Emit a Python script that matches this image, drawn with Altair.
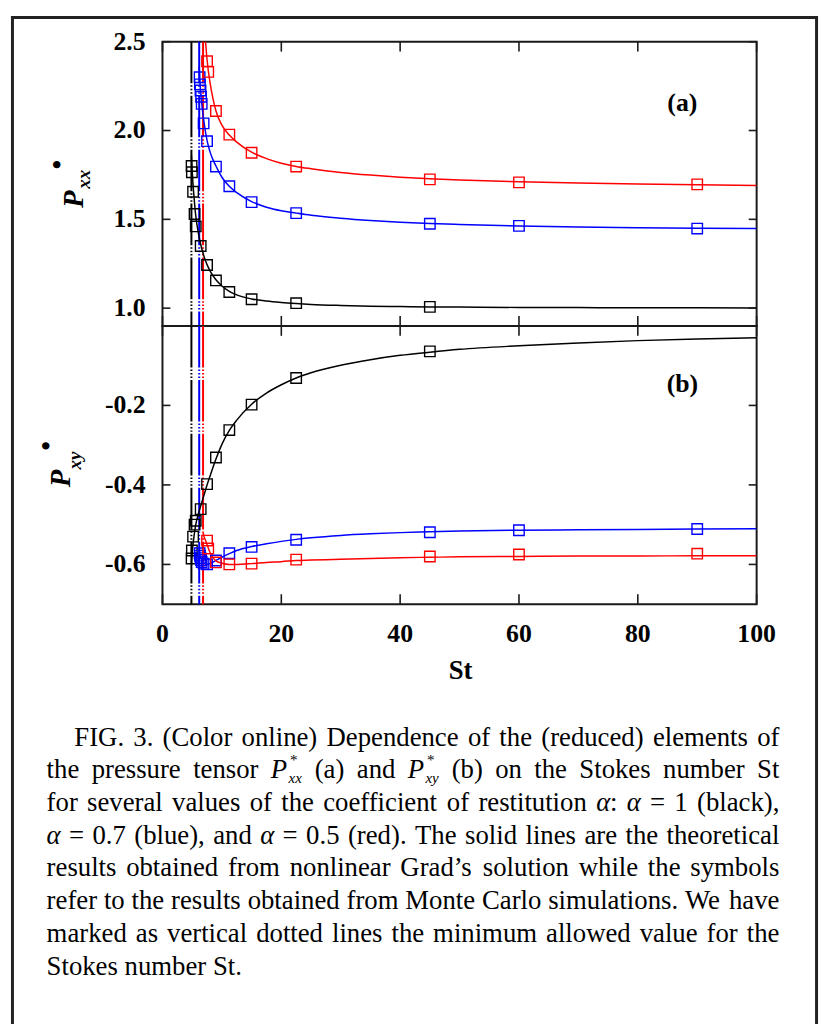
import altair as alt
import pandas as pd

# ------------------------------------------------------------------ data
alphas = ["1", "0.7", "0.5"]
line_colors = ["#000000", "#0000ff", "#ff0000"]
st_min = [4.87, 6.18, 6.83]

# theoretical curves
th_st_a1 = [4.87, 5.0, 5.3, 5.6, 6.0, 6.5, 7.0, 7.5, 8.0, 9.0, 10.0, 11.25, 12.5, 15.0,
            17.5, 20.0, 22.5, 25.0, 30.0, 35.0, 40.0, 45.0, 50.0, 60.0, 70.0, 80.0, 90.0, 100.0]
th_pxx_a1 = [1.86, 1.77, 1.63, 1.52, 1.43, 1.35, 1.29, 1.245, 1.21, 1.16, 1.125, 1.095, 1.075, 1.052,
             1.040, 1.032, 1.026, 1.021, 1.015, 1.011, 1.009, 1.007, 1.006, 1.004, 1.003, 1.002, 1.002, 1.001]
th_pxy_a1 = [-0.60, -0.57, -0.53, -0.50, -0.475, -0.45, -0.425, -0.40, -0.378, -0.335, -0.298, -0.263, -0.237, -0.197,
             -0.169, -0.148, -0.131, -0.118, -0.099, -0.085, -0.074, -0.066, -0.059, -0.050, -0.043, -0.037, -0.033, -0.030]

th_st_a07 = [6.18, 6.3, 6.5, 6.75, 7.0, 7.5, 8.0, 9.0, 10.0, 11.25, 12.5, 15.0, 17.5, 20.0, 22.5,
             25.0, 30.0, 35.0, 40.0, 45.0, 50.0, 60.0, 70.0, 80.0, 90.0, 100.0]
th_pxx_a07 = [2.36, 2.28, 2.19, 2.11, 2.045, 1.945, 1.88, 1.80, 1.737, 1.686, 1.650, 1.600, 1.568, 1.548, 1.535,
              1.523, 1.506, 1.493, 1.483, 1.476, 1.471, 1.463, 1.457, 1.453, 1.450, 1.448]
th_pxy_a07 = [-0.56, -0.575, -0.585, -0.593, -0.597, -0.600, -0.598, -0.590, -0.582, -0.573, -0.565, -0.555, -0.548,
              -0.542, -0.537, -0.533, -0.527, -0.523, -0.520, -0.518, -0.516, -0.514, -0.513, -0.512, -0.511, -0.510]

th_st_a05 = [6.83, 7.0, 7.25, 7.5, 8.0, 8.5, 9.0, 10.0, 11.25, 12.5, 15.0, 17.5, 20.0, 22.5, 25.0,
             30.0, 35.0, 40.0, 45.0, 50.0, 60.0, 70.0, 80.0, 90.0, 100.0]
th_pxx_a05 = [2.75, 2.62, 2.50, 2.40, 2.27, 2.18, 2.11, 2.03, 1.975, 1.935, 1.878, 1.842, 1.816, 1.798, 1.785,
              1.764, 1.749, 1.737, 1.728, 1.721, 1.711, 1.704, 1.699, 1.695, 1.691]
th_pxy_a05 = [-0.52, -0.53, -0.54, -0.55, -0.57, -0.583, -0.591, -0.597, -0.600, -0.600, -0.598, -0.595, -0.593,
              -0.590, -0.589, -0.587, -0.585, -0.583, -0.582, -0.581, -0.580, -0.579, -0.579, -0.578, -0.578]

# Monte Carlo symbols
mc_st_a1 = [4.9, 4.95, 5.15, 5.4, 5.6, 6.43, 7.5, 9.0, 11.25, 15.0, 22.5, 45.0]
mc_pxx_a1 = [1.80, 1.765, 1.655, 1.53, 1.46, 1.35, 1.243, 1.156, 1.091, 1.05, 1.028, 1.007]
mc_pxy_a1 = [-0.585, -0.565, -0.53, -0.50, -0.49, -0.461, -0.398, -0.331, -0.262, -0.198, -0.131, -0.064]

mc_st_a07 = [6.25, 6.3, 6.4, 6.5, 6.6, 6.92, 7.5, 9.0, 11.25, 15.0, 22.5, 45.0, 60.0, 90.0]
mc_pxx_a07 = [2.30, 2.26, 2.225, 2.19, 2.15, 2.04, 1.94, 1.797, 1.686, 1.597, 1.535, 1.475, 1.463, 1.448]
mc_pxy_a07 = [-0.572, -0.578, -0.584, -0.589, -0.594, -0.598, -0.600, -0.590, -0.572, -0.556, -0.538, -0.519,
              -0.514, -0.511]

mc_st_a05 = [7.5, 7.7, 9.0, 11.25, 15.0, 22.5, 45.0, 60.0, 90.0]
mc_pxx_a05 = [2.39, 2.33, 2.11, 1.977, 1.875, 1.797, 1.725, 1.708, 1.697]
mc_pxy_a05 = [-0.540, -0.560, -0.595, -0.600, -0.598, -0.588, -0.580, -0.575, -0.573]

x_ticks = [0, 20, 40, 60, 80, 100]
x_tick_labels = ["0", "20", "40", "60", "80", "100"]
pxx_ticks = [1.0, 1.5, 2.0, 2.5]
pxx_tick_labels = ["1.0", "1.5", "2.0", "2.5"]
pxy_ticks = [-0.6, -0.4, -0.2, 0.0]
pxy_label_vals = [-0.6, -0.4, -0.2]
pxy_tick_labels = ["-0.6", "-0.4", "-0.2"]

caption_lines = [
    "FIG. 3. (Color online) Dependence of the (reduced) elements of",
    "the pressure tensor $Pxx (a) and $Pxy (b) on the Stokes number St",
    "for several values of the coefficient of restitution α: α = 1 (black),",
    "α = 0.7 (blue), and α = 0.5 (red). The solid lines are the theoretical",
    "results obtained from nonlinear Grad’s solution while the symbols",
    "refer to the results obtained from Monte Carlo simulations. We have",
    "marked as vertical dotted lines the minimum allowed value for the",
    "Stokes number St.",
]

# ------------------------------------------------------------------ tables
def frame(st, pxx, pxy, a):
    return pd.DataFrame({"St": st, "Pxx": pxx, "Pxy": pxy, "alpha": a})

theory = pd.concat([frame(th_st_a1, th_pxx_a1, th_pxy_a1, alphas[0]),
                    frame(th_st_a07, th_pxx_a07, th_pxy_a07, alphas[1]),
                    frame(th_st_a05, th_pxx_a05, th_pxy_a05, alphas[2])], ignore_index=True)
mc = pd.concat([frame(mc_st_a1, mc_pxx_a1, mc_pxy_a1, alphas[0]),
                frame(mc_st_a07, mc_pxx_a07, mc_pxy_a07, alphas[1]),
                frame(mc_st_a05, mc_pxx_a05, mc_pxy_a05, alphas[2])], ignore_index=True)
vlines = pd.DataFrame({"St": st_min, "alpha": alphas})
one = pd.DataFrame({"k": [0]})

# ------------------------------------------------------------------ layout
W, H1, H2 = 600, 287, 281
X0, Y0, YB = 161, 34, 321          # page position of the plot frames
SERIF = "Liberation Serif"
INK = "#1a1a1a"

xs = alt.Scale(domain=[0, 100], nice=False, zero=False)
ys1 = alt.Scale(domain=[0.9, 2.5], nice=False, zero=False)
ys2 = alt.Scale(domain=[-0.7, 0.0], nice=False, zero=False)
color = alt.Color("alpha:N", scale=alt.Scale(domain=alphas, range=line_colors), legend=None)
dash = [42, 2, 1.5, 2, 1.5, 2, 1.5, 2]
LBL = dict(font=SERIF, fontWeight="bold", fontSize=26, color="black")


def ticks(ys, H, yvals):
    xt = pd.DataFrame({"v": x_ticks})
    yt = pd.DataFrame({"v": yvals})
    tk = dict(color=INK, strokeWidth=1.6)
    xv = alt.X("v:Q", scale=xs, axis=None)
    yv = alt.Y("v:Q", scale=ys, axis=None)
    return [
        alt.Chart(xt).mark_rule(**tk).encode(x=xv, y=alt.value(0), y2=alt.value(10)),
        alt.Chart(xt).mark_rule(**tk).encode(x=xv, y=alt.value(H - 10), y2=alt.value(H)),
        alt.Chart(yt).mark_rule(**tk).encode(y=yv, x=alt.value(0), x2=alt.value(8)),
        alt.Chart(yt).mark_rule(**tk).encode(y=yv, x=alt.value(W - 8), x2=alt.value(W)),
    ]


def ylabels(ys, vals, texts):
    d = pd.DataFrame({"v": vals, "t": texts})
    return alt.Chart(d).mark_text(align="right", baseline="middle", **LBL).encode(
        y=alt.Y("v:Q", scale=ys, axis=None), x=alt.value(-17), text="t:N")


def panel(field, ys, H, ytick_vals):
    vl = alt.Chart(vlines).mark_rule(strokeWidth=2, strokeDash=dash).encode(
        x=alt.X("St:Q", scale=xs, axis=None), color=color)
    cv = alt.Chart(theory).mark_line(strokeWidth=1.5, interpolate="monotone", clip=True).encode(
        x=alt.X("St:Q", scale=xs, axis=None),
        y=alt.Y(f"{field}:Q", scale=ys, axis=None), color=color, detail="alpha:N")
    pt = alt.Chart(mc).mark_point(shape="square", filled=False, size=112, strokeWidth=1.4,
                                  opacity=1, clip=True).encode(
        x=alt.X("St:Q", scale=xs, axis=None),
        y=alt.Y(f"{field}:Q", scale=ys, axis=None), color=color)
    return [vl, cv, pt] + ticks(ys, H, ytick_vals)


def txt(s, x, y, size, italic=False, bold=True, angle=None):
    kw = dict(text=s, font=SERIF, fontSize=size, color="black", align="center", baseline="middle",
              fontWeight="bold" if bold else "normal")
    if italic:
        kw["fontStyle"] = "italic"
    if angle is not None:
        kw["angle"] = angle
    return alt.Chart(one).mark_text(**kw).encode(x=alt.value(x), y=alt.value(y))


# ---------------------------------------------------- caption (justified)
TR = {' ': 250, '(': 333, ')': 333, '*': 500, ',': 250, '.': 250, ':': 278, '=': 564, '’': 333,
      '0': 500, '1': 500, '2': 500, '3': 500, '4': 500, '5': 500, '6': 500, '7': 500, '8': 500, '9': 500,
      'A': 722, 'B': 667, 'C': 667, 'D': 722, 'E': 611, 'F': 556, 'G': 722, 'H': 722, 'I': 333, 'J': 389,
      'K': 722, 'L': 611, 'M': 889, 'N': 722, 'O': 722, 'P': 556, 'Q': 722, 'R': 667, 'S': 556, 'T': 611,
      'U': 722, 'V': 722, 'W': 944, 'X': 722, 'Y': 722, 'Z': 611,
      'a': 444, 'b': 500, 'c': 444, 'd': 500, 'e': 444, 'f': 333, 'g': 500, 'h': 500, 'i': 278, 'j': 278,
      'k': 500, 'l': 278, 'm': 778, 'n': 500, 'o': 500, 'p': 500, 'q': 500, 'r': 333, 's': 389, 't': 278,
      'u': 500, 'v': 500, 'w': 722, 'x': 500, 'y': 500, 'z': 444}
TI = {'P': 611, 'x': 444, 'y': 444, 'α': 520}


def wid(s, italic):
    return sum((TI.get(c) if italic and c in TI else TR.get(c, 500)) for c in s) / 1000.0


def token(word):
    if word.startswith("$P"):
        sub = word[2:]
        runs = [("P", True, 1.0, 0.0, 0.0),
                ("*", False, 0.56, 0.72, -0.50),
                (sub, True, 0.56, 0.66, 0.17)]
        return runs, 0.66 + max(0.56 * 0.5, 0.56 * wid(sub, True)) + 0.02
    runs, x, buf = [], 0.0, ""
    for c in word:
        if c == "α":
            if buf:
                runs.append((buf, False, 1.0, x, 0.0)); x += wid(buf, False); buf = ""
            runs.append(("α", True, 1.0, x, 0.0)); x += wid("α", True)
        else:
            buf += c
    if buf:
        runs.append((buf, False, 1.0, x, 0.0)); x += wid(buf, False)
    return runs, x


CAP_FS = 27
CAP_LEFT, CAP_RIGHT, CAP_INDENT = 44, 784, 72
cap_base = [745, 778, 811, 844, 877, 910, 943, 976]
rows = []
for i, line in enumerate(caption_lines):
    toks = [token(w) for w in line.split(" ")]
    left = CAP_INDENT if i == 0 else CAP_LEFT
    tot = sum(w for _, w in toks) * CAP_FS
    if i < len(caption_lines) - 1:
        gap = (CAP_RIGHT - left - tot) / (len(toks) - 1)
    else:
        gap = 0.25 * CAP_FS
    x = left
    for runs, w in toks:
        for (s, it, sm, dx, dy) in runs:
            rows.append({"cx": x + dx * CAP_FS - X0, "cy": cap_base[i] + dy * CAP_FS - YB,
                         "t": s, "fs": sm * CAP_FS, "it": it})
        x += w * CAP_FS + gap
cap = pd.DataFrame(rows)


def caption_layer(italic):
    kw = dict(align="left", baseline="alphabetic", font=SERIF, color="black")
    if italic:
        kw["fontStyle"] = "italic"
    return alt.Chart(cap[cap["it"] == italic]).mark_text(**kw).encode(
        x=alt.X("cx:Q", scale=None, axis=None),
        y=alt.Y("cy:Q", scale=None, axis=None),
        text="t:N",
        size=alt.Size("fs:Q", scale=None, legend=None))


# ------------------------------------------------------------------ panels
frame_kw = dict(color="#222222", strokeWidth=3)
frame_layers = [
    alt.Chart(one).mark_rule(**frame_kw).encode(x=alt.value(8 + 1.5 - X0), y=alt.value(8 - Y0),
                                                y2=alt.value(1026 - Y0)),
    alt.Chart(one).mark_rule(**frame_kw).encode(y=alt.value(8 + 1.5 - Y0), x=alt.value(8 - X0),
                                                x2=alt.value(823 - X0)),
    alt.Chart(one).mark_rule(**frame_kw).encode(x=alt.value(821.5 - X0), y=alt.value(8 - Y0),
                                                y2=alt.value(1026 - Y0)),
]

xlab = pd.DataFrame({"v": x_ticks, "t": x_tick_labels})

top = alt.layer(
    *panel("Pxx", ys1, H1, pxx_ticks),
    ylabels(ys1, pxx_ticks, pxx_tick_labels),
    txt("(a)", 686 - X0, 96 - Y0, 26),
    txt("P", 72 - X0, 193 - Y0, 29, italic=True, angle=270),
    txt("xx", 82 - X0, 173 - Y0, 19, italic=True, angle=270),
    txt("•", 56 - X0, 158 - Y0, 27, angle=270),
    *frame_layers,
).properties(width=W, height=H1)

bottom = alt.layer(
    *panel("Pxy", ys2, H2, pxy_ticks),
    ylabels(ys2, pxy_label_vals, pxy_tick_labels),
    alt.Chart(xlab).mark_text(align="center", baseline="middle", **LBL).encode(
        x=alt.X("v:Q", scale=xs, axis=None), y=alt.value(632 - YB), text="t:N"),
    txt("St", 462 - X0, 670 - YB, 27),
    txt("(b)", 686 - X0, 380 - YB, 26),
    txt("P", 59 - X0, 475 - YB, 29, italic=True, angle=270),
    txt("xy", 73 - X0, 457 - YB, 19, italic=True, angle=270),
    txt("•", 44 - X0, 442 - YB, 27, angle=270),
    caption_layer(False),
    caption_layer(True),
).properties(width=W, height=H2)

chart = alt.vconcat(top, bottom, spacing=0, bounds="flush").properties(
    padding=0, autosize=alt.AutoSizeParams(type="pad")
).configure(padding=0).configure_view(stroke=INK, strokeWidth=2)

chart.save("out.html", embed_options={"renderer": "svg", "actions": False})
